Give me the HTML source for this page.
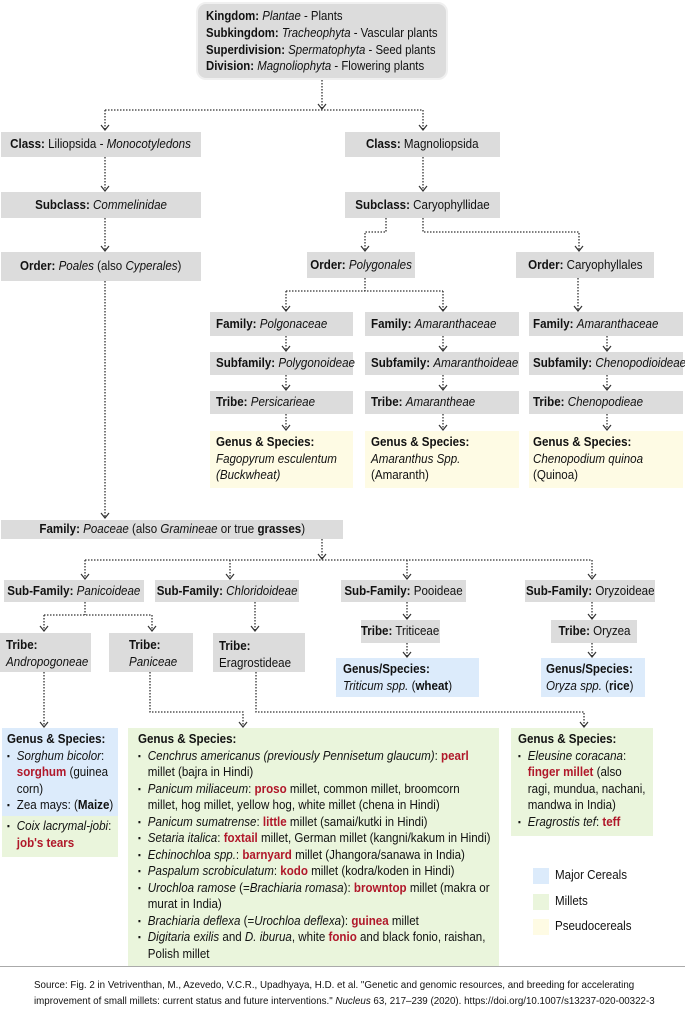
<!DOCTYPE html>
<html><head><meta charset="utf-8"><style>
*{margin:0;padding:0;box-sizing:border-box}
body{width:685px;height:1020px;background:#fff;position:relative;overflow:hidden;font-family:"Liberation Sans Narrow","Liberation Sans",sans-serif;font-size:13px;color:#111;line-height:16.5px}
.b{position:absolute;background:#dcdcdc;white-space:nowrap}
.c{display:flex;align-items:center;justify-content:center}
.l{display:flex;align-items:center;padding-left:8px}
.t{padding:3px 0 0 6px}
.n{display:inline-block;transform:scaleX(.89);transform-origin:0 0;white-space:nowrap}
.c .n{transform-origin:50% 50%}
.bl{background:#dcebfb}.gr{background:#eaf5dc}.ye{background:#fefbe4}
i{font-style:italic}
.r{color:#b0182a;font-weight:bold}
ul{list-style:none}
li{position:relative;padding-left:11px}
li:before{content:"▪";position:absolute;left:0;font-size:9px}
svg{position:absolute;left:0;top:0}
</style></head><body>
<div class="b" style="left:196px;top:2px;width:252px;height:78px;border-radius:10px;border:2px solid #f0f0f0;padding:4px 0 0 8px;line-height:16.8px;font-size:13px"><div class="n" style="transform:scaleX(.875)">
<b>Kingdom:</b> <i>Plantae</i> - Plants<br><b>Subkingdom:</b> <i>Tracheophyta</i> - Vascular plants<br><b>Superdivision:</b> <i>Spermatophyta</i> - Seed plants<br><b>Division:</b> <i>Magnoliophyta</i> - Flowering plants</div></div>

<div class="b c" style="left:1px;top:132px;width:200px;height:25px"><span class="n"><b>Class:</b> Liliopsida - <i>Monocotyledons</i></span></div>
<div class="b c" style="left:345px;top:132px;width:155px;height:25px"><span class="n"><b>Class:</b> Magnoliopsida</span></div>
<div class="b c" style="left:1px;top:192px;width:200px;height:26px"><span class="n"><b>Subclass:</b> <i>Commelinidae</i></span></div>
<div class="b c" style="left:345px;top:192px;width:155px;height:26px"><span class="n"><b>Subclass:</b> Caryophyllidae</span></div>
<div class="b c" style="left:1px;top:252px;width:200px;height:29px"><span class="n"><b>Order:</b> <i>Poales</i> (also <i>Cyperales</i>)</span></div>
<div class="b c" style="left:307px;top:252px;width:108px;height:26px"><span class="n"><b>Order:</b> <i>Polygonales</i></span></div>
<div class="b c" style="left:516px;top:252px;width:138px;height:26px"><span class="n"><b>Order:</b> Caryophyllales</span></div>

<div class="b l" style="left:210px;top:312px;width:143px;height:24px;padding-left:6px"><span class="n"><b>Family:</b> <i>Polgonaceae</i></span></div>
<div class="b l" style="left:365px;top:312px;width:154px;height:24px;padding-left:6px"><span class="n"><b>Family:</b> <i>Amaranthaceae</i></span></div>
<div class="b l" style="left:529px;top:312px;width:154px;height:24px;padding-left:4px"><span class="n"><b>Family:</b> <i>Amaranthaceae</i></span></div>
<div class="b l" style="left:210px;top:352px;width:143px;height:23px;padding-left:6px"><span class="n"><b>Subfamily:</b> <i>Polygonoideae</i></span></div>
<div class="b l" style="left:365px;top:352px;width:154px;height:23px;padding-left:6px"><span class="n"><b>Subfamily:</b> <i>Amaranthoideae</i></span></div>
<div class="b l" style="left:529px;top:352px;width:154px;height:23px;padding-left:4px"><span class="n"><b>Subfamily:</b> <i>Chenopodioideae</i></span></div>
<div class="b l" style="left:210px;top:391px;width:143px;height:23px;padding-left:6px"><span class="n"><b>Tribe:</b> <i>Persicarieae</i></span></div>
<div class="b l" style="left:365px;top:391px;width:154px;height:23px;padding-left:6px"><span class="n"><b>Tribe:</b> <i>Amarantheae</i></span></div>
<div class="b l" style="left:529px;top:391px;width:154px;height:23px;padding-left:4px"><span class="n"><b>Tribe:</b> <i>Chenopodieae</i></span></div>
<div class="b ye t" style="left:210px;top:431px;width:143px;height:57px"><div class="n"><b>Genus &amp; Species:</b><br><i>Fagopyrum esculentum</i><br><i>(Buckwheat)</i></div></div>
<div class="b ye t" style="left:365px;top:431px;width:154px;height:57px"><div class="n"><b>Genus &amp; Species:</b><br><i>Amaranthus Spp.</i><br>(Amaranth)</div></div>
<div class="b ye t" style="left:529px;top:431px;width:154px;height:57px;padding-left:4px"><div class="n"><b>Genus &amp; Species:</b><br><i>Chenopodium quinoa</i><br>(Quinoa)</div></div>

<div class="b c" style="left:1px;top:520px;width:342px;height:19px"><span class="n"><b>Family:</b> <i>Poaceae</i> (also <i>Gramineae</i> or true <b>grasses</b>)</span></div>

<div class="b c" style="left:4px;top:580px;width:140px;height:22px"><span class="n"><b>Sub-Family:</b> <i>Panicoideae</i></span></div>
<div class="b c" style="left:155px;top:580px;width:144px;height:22px"><span class="n"><b>Sub-Family:</b> <i>Chloridoideae</i></span></div>
<div class="b c" style="left:341px;top:580px;width:125px;height:22px"><span class="n"><b>Sub-Family:</b> Pooideae</span></div>
<div class="b c" style="left:525px;top:580px;width:130px;height:22px"><span class="n"><b>Sub-Family:</b> Oryzoideae</span></div>

<div class="b" style="left:0;top:633px;width:91px;height:39px;padding:4px 0 0 6px"><div class="n"><b>Tribe:</b><br><i>Andropogoneae</i></div></div>
<div class="b" style="left:109px;top:633px;width:84px;height:39px;padding:4px 0 0 20px"><div class="n"><b>Tribe:</b><br><i>Paniceae</i></div></div>
<div class="b" style="left:213px;top:633px;width:92px;height:39px;padding:5px 0 0 6px"><div class="n"><b>Tribe:</b><br>Eragrostideae</div></div>
<div class="b c" style="left:361px;top:620px;width:79px;height:23px"><span class="n"><b>Tribe:</b> Triticeae</span></div>
<div class="b c" style="left:551px;top:620px;width:86px;height:23px"><span class="n"><b>Tribe:</b> Oryzea</span></div>
<div class="b bl" style="left:336px;top:658px;width:143px;height:39px;padding:3px 0 0 7px"><div class="n"><b>Genus/Species:</b><br><i>Triticum spp.</i> (<b>wheat</b>)</div></div>
<div class="b bl" style="left:541px;top:658px;width:104px;height:39px;padding:3px 0 0 5px"><div class="n"><b>Genus/Species:</b><br><i>Oryza spp.</i> (<b>rice</b>)</div></div>

<div class="b bl" style="left:2px;top:728px;width:116px;height:88px;padding:3px 0 0 5px"><div class="n"><b>Genus &amp; Species:</b>
<ul><li><i>Sorghum bicolor</i>:<br><span class="r">sorghum</span> (guinea<br>corn)</li><li>Zea mays: (<b>Maize</b>)</li></ul></div></div>
<div class="b gr" style="left:2px;top:816px;width:116px;height:41px;padding:2px 0 0 5px"><div class="n"><ul><li><i>Coix lacrymal-jobi</i>:<br><span class="r">job's tears</span></li></ul></div></div>

<div class="b gr" style="left:128px;top:728px;width:371px;height:238px;padding:3px 0 0 10px"><div class="n"><b>Genus &amp; Species:</b>
<ul>
<li><i>Cenchrus americanus (previously Pennisetum glaucum)</i>: <span class="r">pearl</span><br>millet (bajra in Hindi)</li>
<li><i>Panicum miliaceum</i>: <span class="r">proso</span> millet, common millet, broomcorn<br>millet, hog millet, yellow hog, white millet (chena in Hindi)</li>
<li><i>Panicum sumatrense</i>: <span class="r">little</span> millet (samai/kutki in Hindi)</li>
<li><i>Setaria italica</i>: <span class="r">foxtail</span> millet, German millet (kangni/kakum in Hindi)</li>
<li><i>Echinochloa spp.</i>: <span class="r">barnyard</span> millet (Jhangora/sanawa in India)</li>
<li><i>Paspalum scrobiculatum</i>: <span class="r">kodo</span> millet (kodra/koden in Hindi)</li>
<li><i>Urochloa ramose</i> (=<i>Brachiaria romasa</i>): <span class="r">browntop</span> millet (makra or<br>murat in India)</li>
<li><i>Brachiaria deflexa</i> (=<i>Urochloa deflexa</i>): <span class="r">guinea</span> millet</li>
<li><i>Digitaria exilis</i> and <i>D. iburua</i>, white <span class="r">fonio</span> and black fonio, raishan,<br>Polish millet</li>
</ul></div></div>

<div class="b gr" style="left:511px;top:728px;width:142px;height:108px;padding:3px 0 0 7px"><div class="n"><b>Genus &amp; Species:</b>
<ul><li><i>Eleusine coracana</i>:<br><span class="r">finger millet</span> (also<br>ragi, mundua, nachani,<br>mandwa in India)</li><li><i>Eragrostis tef</i>: <span class="r">teff</span></li></ul></div></div>

<div style="position:absolute;left:533px;top:868px;width:16px;height:16px;background:#dcebfb"></div>
<div style="position:absolute;left:533px;top:894px;width:16px;height:16px;background:#eaf5dc"></div>
<div style="position:absolute;left:533px;top:919px;width:16px;height:16px;background:#fefbe4"></div>
<div style="position:absolute;left:555px;top:867px"><span class="n">Major Cereals</span></div>
<div style="position:absolute;left:555px;top:893px"><span class="n">Millets</span></div>
<div style="position:absolute;left:555px;top:918px"><span class="n">Pseudocereals</span></div>

<div style="position:absolute;left:0;top:966px;width:685px;height:1px;background:#aaa"></div>
<div style="position:absolute;left:34px;top:977px;font-size:10.5px;line-height:16px;white-space:nowrap"><div class="n" style="transform:scaleX(.93)">Source: Fig. 2 in Vetriventhan, M., Azevedo, V.C.R., Upadhyaya, H.D. et al. "Genetic and genomic resources, and breeding for accelerating<br>improvement of small millets: current status and future interventions." <i>Nucleus</i> 63, 217–239 (2020). https://doi.org/10.1007/s13237-020-00322-3</div></div>

<svg width="685" height="1020" fill="none" stroke="#333" stroke-width="1.3">
<g stroke-dasharray="1.5 1.5">
<path d="M322 80V110M105 110H423M105 110V130M423 110V130"/>
<path d="M105 157V191M423 157V191M105 218V251"/>
<path d="M386 218V232H365V251M423 218V232H579V251"/>
<path d="M365 278V291M286 291H443M286 291V311M443 291V311M578 278V311"/>
<path d="M286 336V351M443 336V351M607 336V351M286 375V390M443 375V390M607 375V390M286 414V430M443 414V430M607 414V430"/>
<path d="M105 281V518"/>
<path d="M322 539V560M85 560H592M85 560V579M230 560V579M407 560V579M592 560V579"/>
<path d="M85 602V615M44 615H152M44 615V631M152 615V631M255 602V631"/>
<path d="M407 602V619M407 643V657M592 602V619M592 643V657"/>
<path d="M44 672V727M150 672V712H243V727M256 672V712H584V727"/>
</g>
<g stroke-width="1.2">
<path d="M318 104L322 109L326 104"/>
<path d="M101 125L105 130L109 125M419 125L423 130L427 125M101 186L105 191L109 186M419 186L423 191L427 186M101 246L105 251L109 246M361 246L365 251L369 246M575 246L579 251L583 246"/>
<path d="M282 306L286 311L290 306M439 306L443 311L447 306M574 306L578 311L582 306"/>
<path d="M282 346L286 351L290 346M439 346L443 351L447 346M603 346L607 351L611 346M282 385L286 390L290 385M439 385L443 390L447 385M603 385L607 390L611 385M282 425L286 430L290 425M439 425L443 430L447 425M603 425L607 430L611 425"/>
<path d="M101 513L105 518L109 513M318 554L322 559L326 554"/>
<path d="M81 574L85 579L89 574M226 574L230 579L234 574M403 574L407 579L411 574M588 574L592 579L596 574"/>
<path d="M40 626L44 631L48 626M148 626L152 631L156 626M251 626L255 631L259 626"/>
<path d="M403 614L407 619L411 614M403 652L407 657L411 652M588 614L592 619L596 614M588 652L592 657L596 652"/>
<path d="M40 722L44 727L48 722M239 722L243 727L247 722M580 722L584 727L588 722"/>
</g>
</svg>
</body></html>
